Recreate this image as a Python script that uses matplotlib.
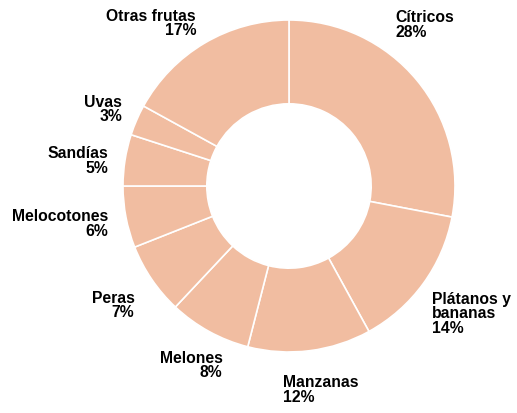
import matplotlib.pyplot as plt

# datos
frutas = ["Cítricos", "Plátanos y\nbananas", "Manzanas", "Melones", "Peras",
          "Melocotones", "Sandías", "Uvas", "Otras frutas"]
porcentajes = [28, 14, 12, 8, 7, 6, 5, 3, 17]

# posiciones de las etiquetas (centro del texto, en radios desde el centro)
label_pos = [(0.82, 0.97), (1.10, -0.77), (0.19, -1.23), (-0.59, -1.08),
             (-1.06, -0.72), (-1.38, -0.23), (-1.27, 0.15), (-1.12, 0.46),
             (-0.83, 0.98)]
label_ha = ["left", "left", "left", "right", "right", "right", "right", "right", "right"]

color = "#F1BDA1"

W, H = 517, 413
cx, cy, R = 289, 186, 166

fig = plt.figure(figsize=(W / 100, H / 100), dpi=100)
ax = fig.add_axes([0, 0, 1, 1])
ax.set_xlim(-cx / R, (W - cx) / R)
ax.set_ylim(-(H - cy) / R, cy / R)
ax.axis("off")

ax.pie(porcentajes, radius=1, startangle=90, counterclock=False,
       colors=[color] * len(porcentajes),
       wedgeprops=dict(width=0.505, edgecolor="white", linewidth=1.2))
ax.set_xlim(-cx / R, (W - cx) / R)
ax.set_ylim(-(H - cy) / R, cy / R)

for nombre, p, (x, y), ha in zip(frutas, porcentajes, label_pos, label_ha):
    ax.text(x, y, f"{nombre}\n{p}%", ha="center", va="center", multialignment=ha,
            fontsize=11.3, fontweight="bold", family="Liberation Sans",
            linespacing=0.95, color="black")

fig.savefig("out.png", dpi=100)
